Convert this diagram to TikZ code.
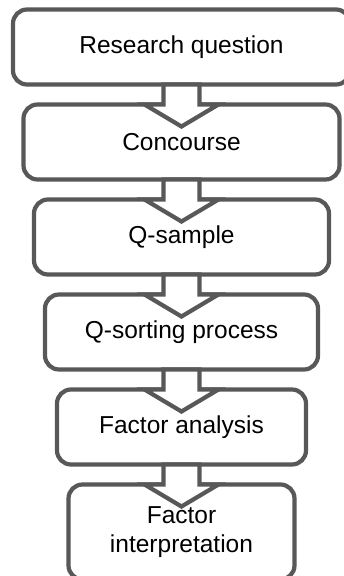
\documentclass[tikz,border=0pt]{standalone}
\usepackage{fontspec}
\setmainfont{Liberation Sans}
\definecolor{edgegray}{RGB}{88,88,88}
% block arrow from the bottom of one stage into the top of the next
\newcommand\stagearrow[2]{%
  \draw[flowarrow]
    ([xshift=-18pt]#1.south) -- ([xshift=-18pt]#2.north)
    -- ([xshift=-37pt]#2.north) -- ([yshift=-22pt]#2.north)
    -- ([xshift=37pt]#2.north) -- ([xshift=18pt]#2.north)
    -- ([xshift=18pt]#1.south) -- cycle;}
\begin{document}
\begin{tikzpicture}[x=1pt,y=-1pt,
  stage/.style={draw=edgegray, line width=4.2pt, rounded corners=14pt,
    fill=white, minimum height=75pt, align=center, inner sep=0pt,
    outer sep=0pt, font=\fontsize{24.5}{29.5}\selectfont},
  flowarrow/.style={draw=edgegray, line width=4.2pt, fill=white,
    line join=miter}]
\useasboundingbox (0,0) rectangle (343,576);
\node[stage, minimum width=337pt] (s1) at (181.5,47) {Research question};
\node[stage, minimum width=316pt] (s2) at (181.5,142) {Concourse};
\node[stage, minimum width=295pt] (s3) at (181.5,237) {Q-sample};
\node[stage, minimum width=273pt] (s4) at (181.5,332) {Q-sorting process};
\node[stage, minimum width=249pt] (s5) at (181.5,427) {Factor analysis};
\node[stage, minimum width=226pt, minimum height=95pt] (s6) at (181.5,532) {Factor\\interpretation};
\stagearrow{s1}{s2}
\stagearrow{s2}{s3}
\stagearrow{s3}{s4}
\stagearrow{s4}{s5}
\stagearrow{s5}{s6}
\end{tikzpicture}
\end{document}
